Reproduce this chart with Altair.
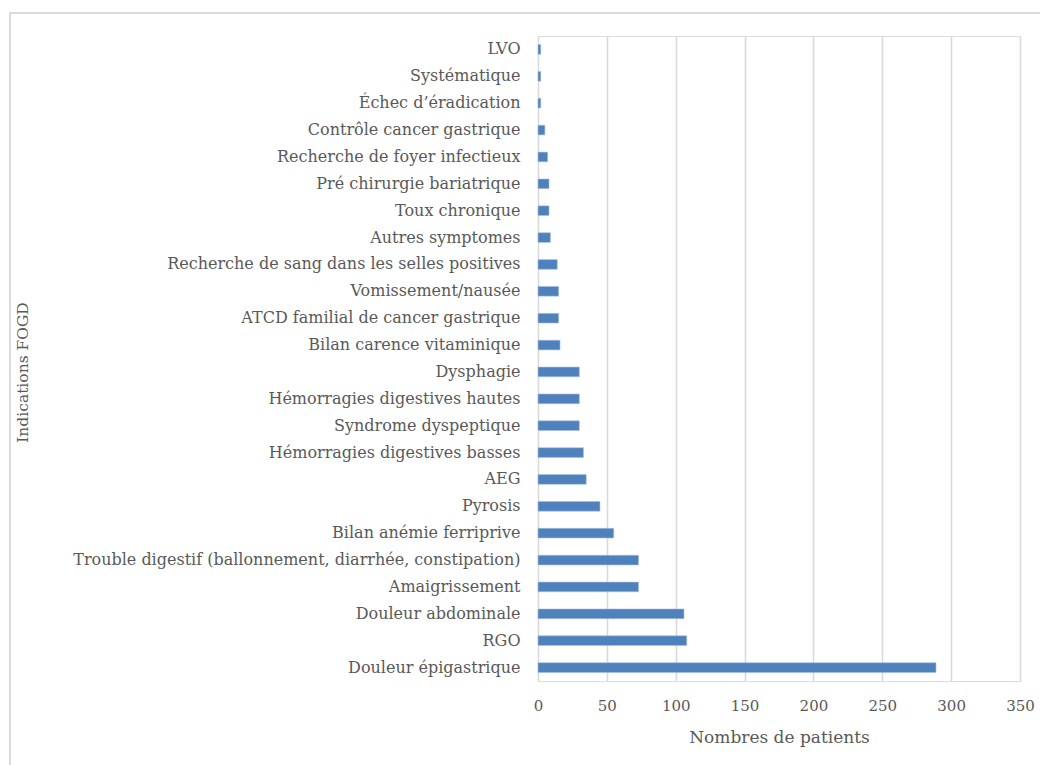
import altair as alt
import pandas as pd

categories = [
    "LVO",
    "Systématique",
    "Échec d’éradication",
    "Contrôle cancer gastrique",
    "Recherche de foyer infectieux",
    "Pré chirurgie bariatrique",
    "Toux chronique",
    "Autres symptomes",
    "Recherche de sang dans les selles positives",
    "Vomissement/nausée",
    "ATCD familial de cancer gastrique",
    "Bilan carence vitaminique",
    "Dysphagie",
    "Hémorragies digestives hautes",
    "Syndrome dyspeptique",
    "Hémorragies digestives basses",
    "AEG",
    "Pyrosis",
    "Bilan anémie ferriprive",
    "Trouble digestif (ballonnement, diarrhée, constipation)",
    "Amaigrissement",
    "Douleur abdominale",
    "RGO",
    "Douleur épigastrique",
]
values = [2, 2, 2, 5, 7, 8, 8, 9, 14, 15, 15, 16, 30, 30, 30, 33, 35, 45, 55, 73, 73, 106, 108, 289]
x_ticks = [0, 50, 100, 150, 200, 250, 300, 350]

df = pd.DataFrame({"cat": categories, "val": values})

FONT = "DejaVu Serif"
TXT = "#595959"
W = 482
H = 645

bars = alt.Chart(df).mark_bar(color="#4F81BD", stroke="#A7C0DE", strokeWidth=0.6).encode(
    x=alt.X(
        "val:Q",
        scale=alt.Scale(domain=[0, 350], nice=False),
        axis=alt.Axis(
            values=x_ticks,
            title="Nombres de patients",
            grid=True,
            gridColor="#D9D9D9",
            gridWidth=1.6,
            domain=False,
            ticks=False,
            labelFlush=False,
            labelPadding=17,
            labelFont=FONT,
            labelFontSize=15,
            labelColor=TXT,
            titleFont=FONT,
            titleFontSize=17,
            titleFontWeight="normal",
            titleColor=TXT,
            titleY=56,
            titleBaseline="middle",
        ),
    ),
    y=alt.Y(
        "cat:N",
        sort=categories,
        scale=alt.Scale(paddingInner=0.64, paddingOuter=0.32),
        axis=alt.Axis(
            title="Indications FOGD",
            domain=False,
            ticks=False,
            labelPadding=18,
            labelLimit=600,
            labelFont=FONT,
            labelFontSize=16,
            labelColor=TXT,
            titleFont=FONT,
            titleFontSize=15.5,
            titleFontWeight="normal",
            titleColor=TXT,
            titleX=-516,
            titleY=336,
            titleAngle=-90,
            titleBaseline="middle",
            titleAlign="center",
        ),
    ),
)

frame_df = pd.DataFrame({"k": [0]})
frame = alt.Chart(frame_df).mark_rect(
    fill=None, stroke="#D0D0D0", strokeWidth=1.5
).encode(
    x=alt.value(-528),
    x2=alt.value(W + 100),
    y=alt.value(-23),
    y2=alt.value(H + 200),
)

chart = alt.layer(frame, bars).properties(
    width=W,
    height=H,
    autosize=alt.AutoSizeParams(type="none"),
    padding={"left": 530, "top": 28, "right": 20, "bottom": 84},
).configure_view(stroke=None).configure(background="white")

chart.save("out.html", embed_options={"renderer": "svg", "actions": False})
